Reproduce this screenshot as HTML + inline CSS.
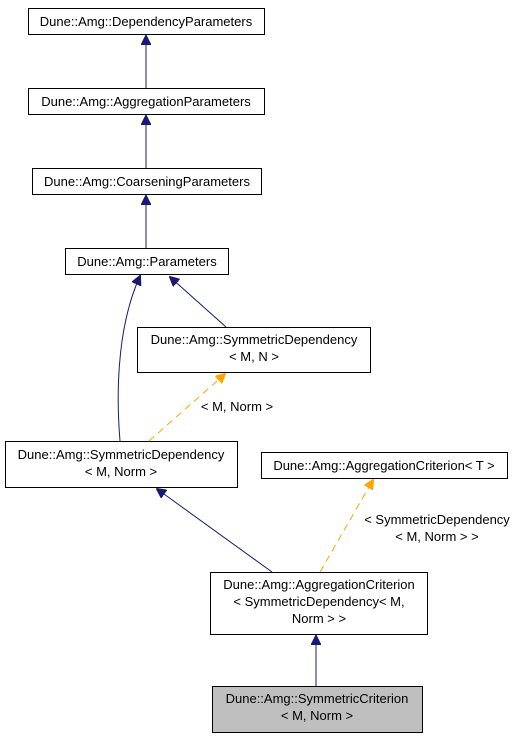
<!DOCTYPE html>
<html><head><style>body{margin:0;background:#fff}svg{display:block}text{font-family:"Liberation Sans",sans-serif;font-size:13px;fill:#000}</style></head>
<body>
<svg width="519" height="739" xmlns="http://www.w3.org/2000/svg">
<defs>
<marker id="n" markerWidth="10" markerHeight="10" refX="9" refY="5" orient="auto" markerUnits="userSpaceOnUse"><path d="M0,0 L10,5 L0,10 z" fill="#191970" stroke="#191970"/></marker>
<marker id="o" markerWidth="10" markerHeight="10" refX="9" refY="5" orient="auto" markerUnits="userSpaceOnUse"><path d="M0,0 L10,5 L0,10 z" fill="orange" stroke="orange"/></marker>
</defs>
<g fill="#fff" stroke="#000" stroke-width="1">
<rect x="28.5" y="8.5" width="236" height="26"/>
<rect x="28.5" y="88.5" width="236" height="26"/>
<rect x="32.5" y="168.5" width="229" height="26"/>
<rect x="65.5" y="248.5" width="163" height="26"/>
<rect x="137.5" y="327.5" width="233" height="45"/>
<rect x="5.5" y="441.5" width="232" height="46"/>
<rect x="261.5" y="452.5" width="246" height="26"/>
<rect x="210.5" y="572.5" width="217" height="62"/>
<rect x="212.5" y="686.5" width="210" height="46" fill="#bfbfbf"/>
</g>
<g fill="none" stroke="#191970" stroke-width="1">
<line x1="146" y1="88" x2="146" y2="36" marker-end="url(#n)"/>
<line x1="146" y1="168" x2="146" y2="116" marker-end="url(#n)"/>
<line x1="146" y1="248" x2="146" y2="196" marker-end="url(#n)"/>
<line x1="226" y1="327" x2="170" y2="277" marker-end="url(#n)"/>
<path d="M120,441 C115,380 120,320 140,276" marker-end="url(#n)"/>
<line x1="272" y1="572" x2="157" y2="489" marker-end="url(#n)"/>
<line x1="316" y1="686" x2="316" y2="636" marker-end="url(#n)"/>
</g>
<g fill="none" stroke="orange" stroke-width="1" stroke-dasharray="7,5">
<line x1="149" y1="441" x2="225" y2="374" marker-end="url(#o)"/>
<line x1="320" y1="572" x2="373" y2="480" marker-end="url(#o)"/>
</g>
<text x="146" y="26" text-anchor="middle">Dune::Amg::DependencyParameters</text>
<text x="146" y="106" text-anchor="middle">Dune::Amg::AggregationParameters</text>
<text x="147" y="186" text-anchor="middle">Dune::Amg::CoarseningParameters</text>
<text x="147" y="266" text-anchor="middle">Dune::Amg::Parameters</text>
<text x="254" y="344" text-anchor="middle">Dune::Amg::SymmetricDependency</text>
<text x="254" y="361" text-anchor="middle">&lt; M, N &gt;</text>
<text x="237" y="411" text-anchor="middle">&lt; M, Norm &gt;</text>
<text x="121" y="459" text-anchor="middle">Dune::Amg::SymmetricDependency</text>
<text x="121" y="476" text-anchor="middle">&lt; M, Norm &gt;</text>
<text x="384" y="470" text-anchor="middle">Dune::Amg::AggregationCriterion&lt; T &gt;</text>
<text x="437" y="524" text-anchor="middle">&lt; SymmetricDependency</text>
<text x="437" y="541" text-anchor="middle">&lt; M, Norm &gt; &gt;</text>
<text x="319" y="589" text-anchor="middle">Dune::Amg::AggregationCriterion</text>
<text x="319" y="606" text-anchor="middle">&lt; SymmetricDependency&lt; M,</text>
<text x="319" y="623" text-anchor="middle">Norm &gt; &gt;</text>
<text x="317" y="703" text-anchor="middle">Dune::Amg::SymmetricCriterion</text>
<text x="317" y="720" text-anchor="middle">&lt; M, Norm &gt;</text>
</svg>
</body></html>
